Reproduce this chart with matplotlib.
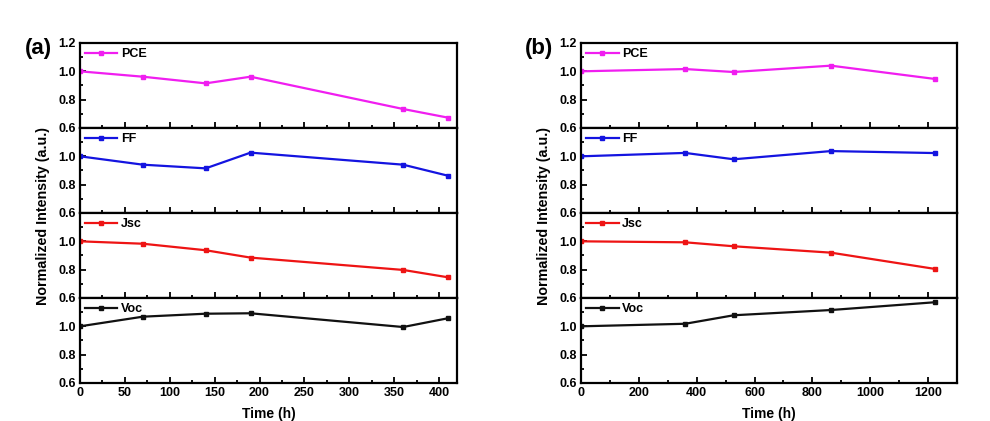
import matplotlib
matplotlib.use("Agg")
import matplotlib.pyplot as plt
from matplotlib.ticker import MultipleLocator

plt.rcParams['font.family'] = ['Liberation Sans', 'DejaVu Sans']
plt.rcParams['font.weight'] = 'bold'

# Aging time (h) for the two device sets
time_a = [0, 70, 140, 190, 360, 410]
time_b = [0, 360, 528, 864, 1224]

# Normalized photovoltaic parameters, set (a)
pce_a = [1.00, 0.962, 0.915, 0.962, 0.734, 0.673]
ff_a = [1.00, 0.941, 0.915, 1.026, 0.941, 0.863]
jsc_a = [1.00, 0.983, 0.937, 0.885, 0.798, 0.746]
voc_a = [1.00, 1.068, 1.089, 1.092, 0.995, 1.057]

# Normalized photovoltaic parameters, set (b)
pce_b = [1.00, 1.016, 0.995, 1.040, 0.946]
ff_b = [1.00, 1.024, 0.979, 1.037, 1.023]
jsc_b = [1.00, 0.993, 0.965, 0.920, 0.805]
voc_b = [1.00, 1.018, 1.078, 1.115, 1.170]

series_names = ["PCE", "FF", "Jsc", "Voc"]
series_colors = ["#F01EF0", "#1414E0", "#EE1414", "#111111"]

panels = [
    dict(tag="(a)", t=time_a, vals=[pce_a, ff_a, jsc_a, voc_a], xmax=420,
         major=50, minor=25, left=0.0808, width=0.3808),
    dict(tag="(b)", t=time_b, vals=[pce_b, ff_b, jsc_b, voc_b], xmax=1300,
         major=200, minor=100, left=0.5869, width=0.3798),
]

fig = plt.figure(figsize=(9.9, 4.21), dpi=100)
top = 0.8979
h = 0.2019
fs = 9

for p in panels:
    axes = []
    for i, (name, col, v) in enumerate(zip(series_names, series_colors, p["vals"])):
        ax = fig.add_axes([p["left"], top - (i + 1) * h, p["width"], h])
        ax.plot(p["t"], v, color=col, lw=1.6, marker="s", ms=3.5, label=name)
        ax.set_xlim(0, p["xmax"])
        ax.set_ylim(0.6, 1.2)
        if i == 0:
            ax.set_yticks([0.6, 0.8, 1.0, 1.2])
        else:
            ax.set_yticks([0.6, 0.8, 1.0])
        ax.yaxis.set_minor_locator(MultipleLocator(0.1))
        ax.xaxis.set_major_locator(MultipleLocator(p["major"]))
        ax.xaxis.set_minor_locator(MultipleLocator(p["minor"]))
        ax.tick_params(which="both", direction="in", top=False, right=False,
                       labelsize=fs, width=1.3)
        ax.tick_params(which="major", length=4, pad=3)
        ax.tick_params(which="minor", length=2)
        for lab in ax.get_yticklabels() + ax.get_xticklabels():
            lab.set_fontweight("bold")
        for s in ax.spines.values():
            s.set_linewidth(1.6)
        if i < 3:
            ax.tick_params(axis="x", labelbottom=False)
        ax.legend(loc="upper left", frameon=False, handlelength=2.6,
                  handletextpad=0.3, borderaxespad=0.2, borderpad=0.2,
                  prop=dict(size=fs, weight="bold"))
        axes.append(ax)
    axes[-1].set_xlabel("Time (h)", fontsize=10, fontweight="bold", labelpad=6)
    mid = top - 2 * h
    fig.text(p["left"] - 0.037, mid - 0.008, "Normalized Intensity (a.u.)", rotation=90,
             ha="center", va="center", fontsize=10.3, fontweight="bold")
    fig.text(p["left"] - 0.042, top - 0.014, p["tag"], ha="center", va="center",
             fontsize=16, fontweight="bold")

fig.savefig("out.png", dpi=100, facecolor="white")
